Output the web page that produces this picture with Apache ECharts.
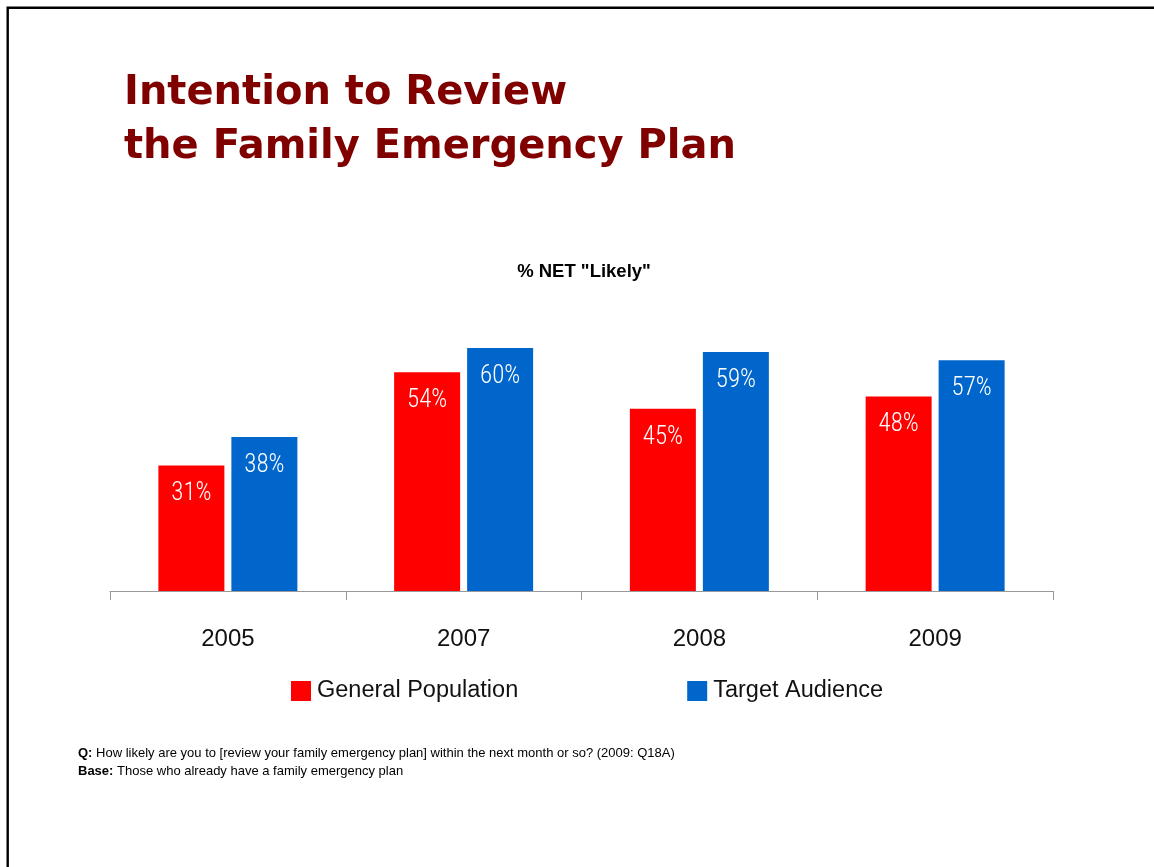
<!DOCTYPE html>
<html>
<head>
<meta charset="utf-8">
<script src="https://cdn.jsdelivr.net/npm/echarts@6/dist/echarts.min.js"></script>
<style>
  html, body { margin: 0; padding: 0; background: #fff; }
  #chart { width: 1154px; height: 867px; }
</style>
</head>
<body>
<div id="chart"></div>
<script>
// Survey years and share answering "likely" (%)
const years = ['2005', '2007', '2008', '2009'];
const generalPopulation = [31, 54, 45, 48];
const targetAudience = [38, 60, 59, 57];
const seriesNames = ['General Population', 'Target Audience'];

const sans = '"Liberation Sans", Arial, sans-serif';
const narrow = '"Roboto Condensed", "Liberation Sans Narrow", "Arial Narrow", sans-serif';
const wide = '"DejaVu Sans", Verdana, sans-serif';

const chart = echarts.init(document.getElementById('chart'));

const barLabel = {
  show: true,
  position: 'insideTop',
  distance: 16,
  color: '#ffffff',
  fontFamily: narrow,
  fontWeight: 300,
  fontSize: 25,
  formatter: p => p.value + '%'
};

chart.setOption({
  backgroundColor: '#ffffff',
  animation: false,
  title: [
    {
      text: 'Intention to Review\nthe Family Emergency Plan',
      left: 124,
      top: 67,
      padding: 0,
      textStyle: {
        color: '#800000',
        fontFamily: wide,
        fontWeight: 'bold',
        fontSize: 40,
        lineHeight: 54
      }
    },
    {
      text: '% NET "Likely"',
      left: 584,
      top: 262,
      padding: 0,
      textAlign: 'center',
      textStyle: {
        color: '#000',
        fontFamily: sans,
        fontWeight: 'bold',
        fontSize: 18.5
      }
    },
    {
      text: '{b|Q:} How likely are you to [review your family emergency plan] within the next month or so? (2009: Q18A)\n{b|Base:} Those who already have a family emergency plan',
      left: 78,
      top: 744,
      padding: 0,
      textStyle: {
        color: '#000',
        fontFamily: sans,
        fontWeight: 'normal',
        fontSize: 13,
        lineHeight: 18,
        rich: {
          b: { fontFamily: sans, fontSize: 13, fontWeight: 'bold', color: '#000', lineHeight: 18 }
        }
      }
    }
  ],
  legend: {
    data: seriesNames,
    left: 291,
    top: 679,
    padding: 0,
    itemWidth: 20,
    itemHeight: 20,
    itemGap: 169,
    icon: 'rect',
    textStyle: {
      color: '#111',
      fontFamily: sans,
      fontSize: 23.5,
      padding: [0, 0, 0, 1]
    }
  },
  grid: {
    left: 110,
    right: 101,
    top: 307.5,
    bottom: 276
  },
  xAxis: {
    type: 'category',
    data: years,
    boundaryGap: true,
    axisLine: { lineStyle: { color: '#999999', width: 1 } },
    axisTick: { show: true, length: 9, lineStyle: { color: '#999999' } },
    axisLabel: {
      color: '#111',
      fontFamily: sans,
      fontSize: 24,
      margin: 36
    }
  },
  yAxis: {
    type: 'value',
    min: 0,
    max: 70,
    show: false,
    splitLine: { show: false }
  },
  series: [
    {
      name: seriesNames[0],
      type: 'bar',
      data: generalPopulation,
      barWidth: 66,
      barGap: '10.6%',
      itemStyle: { color: '#ff0000' },
      label: barLabel
    },
    {
      name: seriesNames[1],
      type: 'bar',
      data: targetAudience,
      barWidth: 66,
      barGap: '10.6%',
      itemStyle: { color: '#0066cc' },
      label: barLabel
    }
  ],
  graphic: [
    {
      type: 'polyline',
      shape: { points: [[7.7, 867], [7.7, 7.7], [1154, 7.7]] },
      style: { stroke: '#000', lineWidth: 2.4, fill: null }
    }
  ]
});
</script>
</body>
</html>
